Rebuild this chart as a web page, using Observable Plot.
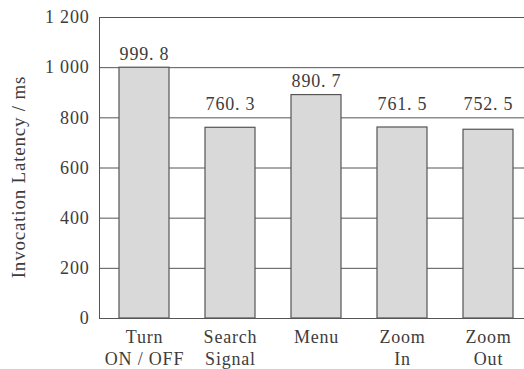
<!DOCTYPE html>
<html>
<head>
<meta charset="utf-8">
<script src="https://cdn.jsdelivr.net/npm/d3@7"></script>
<script src="https://cdn.jsdelivr.net/npm/@observablehq/plot@0.6"></script>
<style>
  html, body { margin: 0; padding: 0; background: #fff; }
  #chart svg { display: block; }
  #chart g[aria-label="y-label"] { letter-spacing: 1.4px; }
</style>
</head>
<body>
<div id="chart"></div>
<script>
// Invocation latency for each remote-control command (ms)
const commands = ["Turn\nON / OFF", "Search\nSignal", "Menu", "Zoom\nIn", "Zoom\nOut"];
const latency = [999.8, 760.3, 890.7, 761.5, 752.5];
const yTicks = [0, 200, 400, 600, 800, 1000, 1200];
const yLabel = "Invocation Latency / ms";

const rows = commands.map((c, i) => ({command: c, latency: latency[i]}));

// Value labels sit above the bar, lifted onto the next gridline when it is close,
// so that the line never runs through the digits.
const labelAnchorValue = v => {
  const next = yTicks.find(t => t >= v);
  return next !== undefined && next - v < 60 ? next : v;
};

const ink = "#3c3c3c";
const font = "'Liberation Serif', 'DejaVu Serif', serif";
const thousands = d3.formatLocale({decimal: ".", thousands: " ", grouping: [3], currency: ["", ""]}).format(",");
const valueText = v => v.toFixed(1).replace(".", ". ");

const chart = Plot.plot({
  width: 524,
  height: 369,
  marginLeft: 99,
  marginRight: 0,
  marginTop: 17,
  marginBottom: 51,
  style: {fontFamily: font, fontSize: "18px", letterSpacing: "0.8px", color: ink, background: "#fff"},
  x: {domain: commands, range: [99, 532], paddingInner: 0.424, paddingOuter: 0.207},
  y: {domain: [0, 1200]},
  marks: [
    Plot.ruleY(yTicks, {stroke: "#555", strokeWidth: 1}),
    Plot.frame({anchor: "left", stroke: "#555"}),
    Plot.barY(rows, {x: "command", y: "latency", fill: "#d9d9d9", stroke: "#555", strokeWidth: 1.2}),
    Plot.text(rows, {x: "command", y: d => labelAnchorValue(d.latency), text: d => valueText(d.latency), lineAnchor: "bottom", dy: -8, fill: ink, fontSize: 18}),
    Plot.axisY({ticks: yTicks, tickSize: 0, tickPadding: 10, tickFormat: thousands, label: null, fill: ink, fontSize: 18}),
    Plot.axisX({tickSize: 0, tickPadding: 9, label: null, fill: ink, fontSize: 18, lineHeight: 1.22}),
    Plot.text([yLabel], {ariaLabel: "y-label", frameAnchor: "left", textAnchor: "middle", rotate: -90, dx: -81, dy: 9, fill: ink, fontSize: 19})
  ]
});

document.getElementById("chart").append(chart);
</script>
</body>
</html>
